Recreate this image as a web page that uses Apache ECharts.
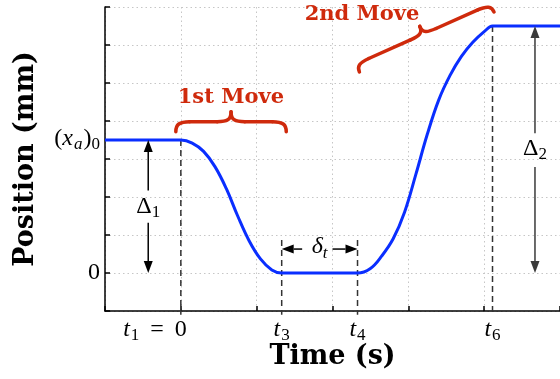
<!DOCTYPE html>
<html>
<head>
<meta charset="utf-8">
<script src="https://cdn.jsdelivr.net/npm/echarts@6/dist/echarts.min.js"></script>
<style>
html, body { margin: 0; padding: 0; background: #fff; }
#main { width: 560px; height: 379px; }
</style>
</head>
<body>
<div id="main"></div>
<script>
// position curve: time (s) / position (mm)
var timeData = [-1, -0.05, 0, 0.15, 0.3, 0.45, 0.6, 0.75, 0.9, 1.05, 1.2, 1.33, 1.38,
                2.28, 2.33, 2.5, 2.65, 2.8, 2.95, 3.1, 3.25, 3.4, 3.55, 3.7, 3.85, 4.0, 4.11, 4.16, 5];
var posData = [3.5, 3.5, 3.5, 3.42, 3.2, 2.8, 2.22, 1.5, 0.85, 0.37, 0.08, 0, 0,
               0, 0, 0.12, 0.45, 0.9, 1.6, 2.6, 3.65, 4.55, 5.2, 5.7, 6.07, 6.35, 6.5, 6.5, 6.5];

// instants marked on the time axis (t1 = 0, t3, t4, t6)
var markTimes = [0, 1.33, 2.33, 4.11];
var markNames = ['1', '3', '4', '6'];
// levels: (x_a)_0 and the final position
var startLevel = 3.5;
var endLevel = 6.5;

var seriesData = [];
for (var i = 0; i < timeData.length; i++) {
  seriesData.push([timeData[i], posData[i]]);
}

var gridLine = { show: true, lineStyle: { color: '#c6c6c6', width: 1, type: [1.5, 3] } };
var axisName = { fontFamily: 'DejaVu Serif', fontWeight: 'bold', fontSize: 27, color: '#000' };

var option = {
  animation: false,
  grid: { left: 105, right: 0, top: 7, bottom: 68, containLabel: false },
  xAxis: {
    type: 'value', min: -1, max: 5, interval: 1,
    name: 'Time (s)', nameLocation: 'middle', nameGap: 32, nameTextStyle: axisName,
    axisLine: { onZero: false, lineStyle: { color: '#000', width: 1.5 } },
    axisTick: { inside: true, length: 5, lineStyle: { color: '#000', width: 1.5 } },
    axisLabel: { show: false },
    splitLine: gridLine
  },
  yAxis: {
    type: 'value', min: -1, max: 7, interval: 1,
    name: 'Position (mm)', nameLocation: 'middle', nameRotate: 90, nameGap: 66, nameTextStyle: axisName,
    axisLine: { onZero: false, lineStyle: { color: '#000', width: 1.5 } },
    axisTick: { inside: true, length: 5, lineStyle: { color: '#000', width: 1.5 } },
    axisLabel: { show: false },
    splitLine: gridLine
  },
  series: [{
    type: 'line',
    data: seriesData,
    smooth: 0.4,
    showSymbol: false,
    silent: true,
    z: 3,
    lineStyle: { color: '#0a2eff', width: 3 }
  }]
};

var chart = echarts.init(document.getElementById('main'));
chart.setOption(option);

function px(t, v) {
  return chart.convertToPixel({ gridIndex: 0 }, [t, v]);
}

// math-like labels, laid out piece by piece
var ctx = document.createElement('canvas').getContext('2d');
var MATH = '"Liberation Serif", "DejaVu Serif", serif';
var kinds = {
  r: { style: 'normal', size: 24, dy: 0 },
  i: { style: 'italic', size: 24, dy: 0 },
  sr: { style: 'normal', size: 17, dy: 6 },
  si: { style: 'italic', size: 17, dy: 6 }
};
function mathText(parts, x, y, align, color) {
  var widths = [], total = 0;
  parts.forEach(function (p) {
    var w;
    if (typeof p === 'number') {
      w = p;
    } else {
      var k = kinds[p[1]];
      ctx.font = k.style + ' ' + k.size + 'px ' + MATH;
      w = ctx.measureText(p[0]).width;
    }
    widths.push(w);
    total += w;
  });
  var cx = align === 'right' ? x - total : (align === 'center' ? x - total / 2 : x);
  var out = [];
  parts.forEach(function (p, j) {
    if (typeof p !== 'number') {
      var k = kinds[p[1]];
      out.push({
        type: 'text', silent: true, z: 10,
        style: {
          text: p[0], x: cx, y: y + k.dy,
          fontStyle: k.style, fontSize: k.size, fontFamily: MATH,
          fill: color || '#000',
          align: 'left', verticalAlign: 'middle',
          textAlign: 'left', textVerticalAlign: 'middle'
        }
      });
    }
    cx += widths[j];
  });
  return out;
}

function dashed(t, v0, v1) {
  var a = px(t, v0), b = px(t, v1);
  return {
    type: 'line', silent: true, z: 1,
    shape: { x1: a[0], y1: a[1], x2: b[0], y2: b[1] },
    style: { stroke: '#333', lineWidth: 1.5, lineDash: [6, 4] }
  };
}

function arrow(from, to, color) {
  var a = px(from[0], from[1]), b = px(to[0], to[1]);
  var dx = b[0] - a[0], dy = b[1] - a[1];
  var len = Math.sqrt(dx * dx + dy * dy), ux = dx / len, uy = dy / len;
  var hl = 12, hw = 4.5;
  var base = [b[0] - ux * hl, b[1] - uy * hl];
  return [
    { type: 'line', silent: true, z: 10,
      shape: { x1: a[0], y1: a[1], x2: base[0], y2: base[1] },
      style: { stroke: color, lineWidth: 1.5 } },
    { type: 'polygon', silent: true, z: 10,
      shape: { points: [b, [base[0] - uy * hw, base[1] + ux * hw], [base[0] + uy * hw, base[1] - ux * hw]] },
      style: { fill: color } }
  ];
}

// curly brace between two data points, tip on the left-hand side of the travel direction
function brace(from, to, h, color) {
  var a = px(from[0], from[1]), b = px(to[0], to[1]);
  var dx = b[0] - a[0], dy = b[1] - a[1];
  var L = Math.sqrt(dx * dx + dy * dy);
  var m = -h / 2, r = Math.min(14, L / 8), c = L / 2;
  var st = { stroke: color, lineWidth: 3.5, lineCap: 'round', fill: null };
  function bz(x1, y1, cx1, cy1, cx2, cy2, x2, y2) {
    return { type: 'bezierCurve', silent: true,
      shape: { x1: x1, y1: y1, cpx1: cx1, cpy1: cy1, cpx2: cx2, cpy2: cy2, x2: x2, y2: y2 }, style: st };
  }
  function ln(x1, y1, x2, y2) {
    return { type: 'line', silent: true, shape: { x1: x1, y1: y1, x2: x2, y2: y2 }, style: st };
  }
  return {
    type: 'group', x: a[0], y: a[1], rotation: -Math.atan2(dy, dx), z: 10, silent: true,
    children: [
      bz(0, 0, 0, m * 0.7, r * 0.25, m, r, m),
      ln(r, m, c - r, m),
      bz(c - r, m, c - r * 0.3, m, c, m * 1.15, c, -h),
      bz(c, -h, c, m * 1.15, c + r * 0.3, m, c + r, m),
      ln(c + r, m, L - r, m),
      bz(L - r, m, L - r * 0.25, m, L, m * 0.7, L, 0)
    ]
  };
}

var red = '#cf2a0c';
var elems = [];
var axisY = px(0, -1)[1];
var axisX = px(-1, 0)[0];

// dashed markers at the instants
elems.push(dashed(markTimes[0], startLevel, -1.1));
elems.push(dashed(markTimes[1], 0.87, -1.1));
elems.push(dashed(markTimes[2], 0.87, -1.1));
elems.push(dashed(markTimes[3], endLevel, -1.1));

// time axis labels
var labY = axisY + 19;
elems = elems.concat(mathText([['t', 'i'], 1, [markNames[0], 'sr'], 11, ['=', 'r'], 11, ['0', 'r']],
  px(markTimes[0], 0)[0] + 6, labY, 'right'));
for (var k = 1; k < markTimes.length; k++) {
  elems = elems.concat(mathText([['t', 'i'], 1, [markNames[k], 'sr']], px(markTimes[k], 0)[0], labY, 'center'));
}

// position axis labels
elems = elems.concat(mathText([['0', 'r']], axisX - 5, px(0, 0)[1], 'right'));
elems = elems.concat(mathText([['(', 'r'], ['x', 'i'], 1, ['a', 'si'], 1, [')', 'r'], ['0', 'sr']],
  axisX - 5, px(0, startLevel)[1] - 1, 'right'));

// Delta 1
elems = elems.concat(arrow([-0.43, 2.17], [-0.43, startLevel], '#000'));
elems = elems.concat(arrow([-0.43, 1.32], [-0.43, 0], '#000'));
var d1 = px(-0.43, 1.74);
elems = elems.concat(mathText([['Δ', 'r'], ['1', 'sr']], d1[0], d1[1], 'center'));

// Delta 2
elems = elems.concat(arrow([4.67, 3.68], [4.67, endLevel], '#3a3a3a'));
elems = elems.concat(arrow([4.67, 2.79], [4.67, 0], '#3a3a3a'));
var d2 = px(4.67, 3.28);
elems = elems.concat(mathText([['Δ', 'r'], ['2', 'sr']], d2[0], d2[1], 'center'));

// delta t
elems = elems.concat(arrow([1.6, 0.63], [markTimes[1], 0.63], '#000'));
elems = elems.concat(arrow([2.0, 0.63], [markTimes[2], 0.63], '#000'));
var dt = px(1.83, 0.68);
elems = elems.concat(mathText([['δ', 'i'], ['t', 'si']], dt[0], dt[1], 'center'));

// the two moves
elems.push(brace([-0.066, 3.72], [1.39, 3.72], 20, red));
elems.push(brace([2.355, 5.29], [4.13, 6.87], 17, red));
var m1 = px(0.66, 4.62), m2 = px(2.39, 6.8);
[['1st Move', m1], ['2nd Move', m2]].forEach(function (it) {
  elems.push({
    type: 'text', silent: true, z: 10,
    style: {
      text: it[0], x: it[1][0], y: it[1][1],
      fontFamily: 'DejaVu Serif', fontWeight: 'bold', fontSize: 21, fill: red,
      align: 'center', verticalAlign: 'middle', textAlign: 'center', textVerticalAlign: 'middle'
    }
  });
});

chart.setOption({ graphic: elems });
</script>
</body>
</html>
